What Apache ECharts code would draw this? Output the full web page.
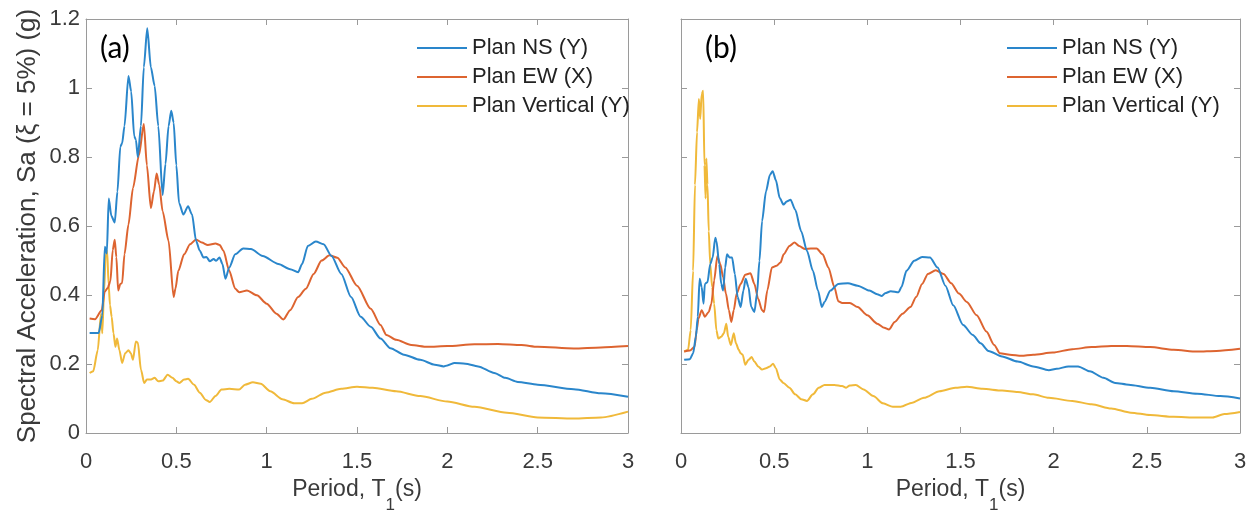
<!DOCTYPE html>
<html>
<head>
<meta charset="utf-8">
<script src="https://cdn.jsdelivr.net/npm/echarts@6/dist/echarts.min.js"></script>
<style>html,body{margin:0;padding:0;background:#fff;}#c{width:1256px;height:519px;}</style>
</head>
<body>
<div id="c"></div>
<script>
// ---- Data (Period T in s, Sa in g) ----
const seriesNames = ['Plan NS (Y)', 'Plan EW (X)', 'Plan Vertical (Y)'];
const xTicks = [0, 0.5, 1, 1.5, 2, 2.5, 3];
const yTicks = [0, 0.2, 0.4, 0.6, 0.8, 1, 1.2];

// Panel (a)
const aNS_T = [0.02,0.07,0.09,0.104,0.115,0.126,0.14,0.159,0.174,0.19,0.2,0.213,0.235,0.25,0.267,0.276,0.287,0.304,0.32,0.339,0.359,0.38,0.40,0.424,0.44,0.457,0.472,0.485,0.50,0.515,0.539,0.565,0.587,0.609,0.63,0.65,0.667,0.685,0.707,0.72,0.739,0.755,0.772,0.793,0.826,0.87,0.913,0.978,1.065,1.13,1.174,1.196,1.228,1.272,1.315,1.359,1.413,1.467,1.52,1.576,1.63,1.685,1.76,1.85,1.93,1.98,2.0,2.04,2.1,2.17,2.26,2.32,2.39,2.5,2.7,2.85,3.0];
const aNS_Sa = [0.29,0.29,0.34,0.54,0.52,0.68,0.63,0.61,0.70,0.83,0.84,0.89,1.035,0.99,0.86,0.85,0.80,0.89,1.06,1.173,1.06,1.006,0.89,0.69,0.78,0.89,0.934,0.90,0.776,0.667,0.633,0.657,0.633,0.557,0.528,0.509,0.51,0.498,0.504,0.499,0.509,0.49,0.447,0.48,0.518,0.535,0.533,0.513,0.49,0.475,0.466,0.49,0.542,0.555,0.547,0.513,0.461,0.394,0.337,0.308,0.274,0.246,0.227,0.212,0.198,0.193,0.196,0.203,0.201,0.193,0.174,0.16,0.148,0.14,0.127,0.115,0.105];

const aEW_T = [0.02,0.05,0.087,0.104,0.12,0.135,0.148,0.159,0.168,0.178,0.19,0.2,0.213,0.235,0.26,0.293,0.32,0.337,0.359,0.376,0.391,0.405,0.424,0.457,0.485,0.495,0.511,0.543,0.576,0.609,0.641,0.674,0.717,0.74,0.761,0.793,0.826,0.848,0.891,0.946,1.0,1.054,1.093,1.13,1.174,1.217,1.26,1.304,1.348,1.391,1.435,1.5,1.576,1.63,1.663,1.717,1.80,1.89,2.0,2.15,2.28,2.41,2.5,2.7,2.85,3.0];
const aEW_Sa = [0.332,0.33,0.356,0.41,0.42,0.44,0.53,0.56,0.51,0.413,0.432,0.435,0.518,0.604,0.71,0.805,0.896,0.776,0.652,0.70,0.752,0.72,0.643,0.557,0.394,0.418,0.47,0.518,0.547,0.561,0.552,0.545,0.549,0.545,0.528,0.47,0.418,0.408,0.413,0.399,0.375,0.346,0.329,0.356,0.394,0.418,0.461,0.50,0.515,0.508,0.48,0.427,0.36,0.313,0.284,0.27,0.255,0.25,0.252,0.257,0.258,0.255,0.25,0.245,0.248,0.252];

const aV_T = [0.02,0.04,0.065,0.083,0.09,0.1,0.109,0.117,0.125,0.133,0.142,0.152,0.163,0.172,0.185,0.2,0.217,0.235,0.248,0.26,0.276,0.287,0.304,0.322,0.337,0.36,0.38,0.4,0.425,0.452,0.478,0.5,0.517,0.543,0.565,0.598,0.63,0.663,0.685,0.717,0.75,0.793,0.848,0.88,0.924,0.967,1.02,1.087,1.152,1.196,1.25,1.326,1.413,1.5,1.587,1.717,1.85,2.0,2.15,2.33,2.5,2.7,2.85,3.0];
const aV_Sa = [0.174,0.179,0.24,0.346,0.289,0.41,0.518,0.528,0.432,0.37,0.337,0.289,0.25,0.274,0.24,0.203,0.231,0.24,0.231,0.212,0.265,0.262,0.184,0.145,0.155,0.155,0.16,0.15,0.152,0.169,0.16,0.15,0.145,0.155,0.157,0.14,0.117,0.096,0.09,0.107,0.126,0.128,0.126,0.14,0.147,0.143,0.121,0.098,0.086,0.086,0.099,0.117,0.128,0.134,0.131,0.121,0.107,0.091,0.076,0.059,0.045,0.042,0.045,0.062];

// Panel (b)
const bNS_T = [0.017,0.048,0.065,0.08,0.09,0.1,0.111,0.121,0.128,0.142,0.157,0.17,0.184,0.19,0.205,0.216,0.226,0.237,0.247,0.26,0.274,0.289,0.304,0.32,0.335,0.347,0.362,0.377,0.394,0.408,0.421,0.435,0.456,0.477,0.492,0.509,0.53,0.55,0.567,0.588,0.613,0.645,0.676,0.708,0.735,0.756,0.77,0.802,0.844,0.896,0.948,1.011,1.053,1.078,1.095,1.126,1.168,1.183,1.21,1.252,1.294,1.336,1.377,1.419,1.461,1.514,1.566,1.608,1.65,1.723,1.807,1.89,1.974,2.016,2.079,2.131,2.194,2.267,2.33,2.403,2.518,2.644,2.77,2.895,3.0];
const bNS_Sa = [0.212,0.214,0.231,0.279,0.337,0.447,0.423,0.375,0.432,0.437,0.49,0.509,0.566,0.557,0.49,0.432,0.413,0.48,0.518,0.509,0.509,0.461,0.394,0.365,0.413,0.447,0.423,0.365,0.351,0.404,0.499,0.614,0.70,0.748,0.759,0.733,0.681,0.662,0.671,0.676,0.647,0.585,0.528,0.47,0.413,0.365,0.38,0.413,0.432,0.434,0.427,0.413,0.402,0.397,0.405,0.411,0.408,0.423,0.47,0.499,0.51,0.509,0.48,0.427,0.37,0.313,0.284,0.26,0.238,0.222,0.207,0.193,0.182,0.186,0.193,0.193,0.179,0.16,0.145,0.14,0.131,0.121,0.114,0.107,0.10];

const bEW_T = [0.017,0.048,0.073,0.084,0.094,0.111,0.128,0.149,0.163,0.178,0.195,0.211,0.226,0.241,0.257,0.27,0.283,0.299,0.32,0.345,0.373,0.394,0.414,0.435,0.446,0.463,0.488,0.513,0.534,0.551,0.582,0.609,0.634,0.666,0.697,0.728,0.76,0.791,0.823,0.844,0.865,0.906,0.948,1.0,1.053,1.091,1.116,1.147,1.189,1.231,1.262,1.294,1.325,1.367,1.409,1.45,1.492,1.534,1.587,1.639,1.681,1.712,1.765,1.827,1.89,1.995,2.1,2.204,2.309,2.393,2.518,2.644,2.77,2.874,3.0];
const bEW_Sa = [0.236,0.239,0.25,0.298,0.332,0.356,0.337,0.351,0.375,0.442,0.513,0.49,0.451,0.404,0.356,0.322,0.356,0.404,0.432,0.459,0.463,0.432,0.389,0.356,0.351,0.413,0.48,0.485,0.494,0.518,0.542,0.552,0.542,0.533,0.535,0.535,0.518,0.48,0.423,0.382,0.377,0.377,0.365,0.341,0.317,0.305,0.30,0.322,0.346,0.365,0.394,0.432,0.461,0.472,0.461,0.434,0.404,0.38,0.341,0.294,0.255,0.231,0.227,0.224,0.227,0.233,0.243,0.249,0.252,0.252,0.249,0.241,0.236,0.238,0.244];

const bV_T = [0.017,0.038,0.052,0.065,0.075,0.086,0.096,0.103,0.111,0.119,0.126,0.132,0.136,0.142,0.149,0.157,0.167,0.178,0.19,0.2,0.216,0.23,0.243,0.253,0.268,0.283,0.295,0.31,0.32,0.331,0.345,0.362,0.379,0.394,0.414,0.435,0.456,0.477,0.494,0.509,0.53,0.55,0.582,0.613,0.645,0.676,0.708,0.739,0.77,0.823,0.865,0.886,0.906,0.938,0.98,1.032,1.084,1.137,1.179,1.241,1.304,1.388,1.472,1.534,1.618,1.723,1.807,1.89,1.974,2.1,2.204,2.309,2.414,2.518,2.644,2.77,2.853,2.916,3.0];
const bV_Sa = [0.236,0.241,0.298,0.47,0.719,0.872,0.968,0.91,0.982,0.992,0.776,0.68,0.796,0.72,0.585,0.49,0.423,0.375,0.298,0.274,0.279,0.289,0.317,0.279,0.255,0.289,0.26,0.241,0.231,0.227,0.198,0.212,0.22,0.207,0.193,0.184,0.188,0.193,0.201,0.188,0.155,0.145,0.131,0.112,0.098,0.093,0.112,0.131,0.139,0.139,0.136,0.131,0.138,0.139,0.126,0.107,0.086,0.076,0.076,0.088,0.102,0.121,0.131,0.134,0.128,0.123,0.119,0.112,0.102,0.093,0.083,0.071,0.059,0.052,0.047,0.045,0.045,0.055,0.061];

// ---- Build chart ----
const colors = ['#2a86cb', '#dd6430', '#f0b93a'];
const zip = (t, s) => t.map((v, i) => [v, s[i]]);
const boxColor = '#9a9a9a';
const labelColor = '#3a3a3a';
const fontFam = 'Liberation Sans, Arial, sans-serif';

function xAxisBottom(gi) {
  return {
    type: 'value', gridIndex: gi, min: 0, max: 3, interval: 0.5, position: 'bottom',
    axisLine: { show: true, onZero: false, lineStyle: { color: boxColor, width: 1 } },
    axisTick: { show: true, inside: true, length: 6, lineStyle: { color: boxColor } },
    axisLabel: { color: labelColor, fontSize: 22, fontFamily: fontFam, margin: 18 },
    splitLine: { show: false },
    name: '{m|Period, T}{sub|1}{m|(s)}', nameLocation: 'middle', nameGap: 45,
    nameTextStyle: {
      color: labelColor, fontSize: 23, fontFamily: fontFam,
      rich: {
        m: { fontSize: 23, fontFamily: fontFam, color: labelColor, lineHeight: 26, verticalAlign: 'top' },
        sub: { fontSize: 17, fontFamily: fontFam, color: labelColor, verticalAlign: 'top', padding: [19, 0, 0, 0], lineHeight: 17 }
      }
    }
  };
}
function xAxisTop(gi) {
  return {
    type: 'value', gridIndex: gi, min: 0, max: 3, interval: 0.5, position: 'top',
    axisLine: { show: true, onZero: false, lineStyle: { color: boxColor, width: 1 } },
    axisTick: { show: true, inside: true, length: 6, lineStyle: { color: boxColor } },
    axisLabel: { show: false }, splitLine: { show: false }
  };
}
function yAxisLeft(gi, showLabels) {
  const ax = {
    type: 'value', gridIndex: gi, min: 0, max: 1.2, interval: 0.2, position: 'left',
    axisLine: { show: true, onZero: false, lineStyle: { color: boxColor, width: 1 } },
    axisTick: { show: true, inside: true, length: 6, lineStyle: { color: boxColor } },
    axisLabel: { show: showLabels, color: labelColor, fontSize: 22, fontFamily: fontFam, margin: 6,
                 formatter: v => String(Math.round(v * 10) / 10) },
    splitLine: { show: false }
  };
  if (showLabels) {
    ax.name = 'Spectral Acceleration, Sa (ξ = 5%) (g)';
    ax.nameLocation = 'middle';
    ax.nameGap = 45;
    ax.nameTextStyle = { color: labelColor, fontSize: 26, fontFamily: fontFam };
  }
  return ax;
}
function yAxisRight(gi) {
  return {
    type: 'value', gridIndex: gi, min: 0, max: 1.2, interval: 0.2, position: 'right',
    axisLine: { show: true, onZero: false, lineStyle: { color: boxColor, width: 1 } },
    axisTick: { show: true, inside: true, length: 6, lineStyle: { color: boxColor } },
    axisLabel: { show: false }, splitLine: { show: false }
  };
}
function line(name, data, ci, xi, yi) {
  return {
    type: 'line', name: name, data: data, xAxisIndex: xi, yAxisIndex: yi,
    showSymbol: false, symbol: 'none', smooth: 0.25, smoothMonotone: 'x',
    lineStyle: { color: colors[ci], width: 2 }, itemStyle: { color: colors[ci] },
    z: 3 - ci, animation: false
  };
}
function legend(left) {
  return {
    data: seriesNames, orient: 'vertical', left: left, top: 32,
    icon: 'rect', itemWidth: 50, itemHeight: 2, itemGap: 7,
    textStyle: { color: '#222', fontSize: 22, fontFamily: fontFam, lineHeight: 22 },
    selectedMode: false
  };
}

const chart = echarts.init(document.getElementById('c'), null, { renderer: 'canvas' });
chart.setOption({
  backgroundColor: '#fff',
  animation: false,
  grid: [
    { left: 86, right: 628, top: 19, bottom: 82 },
    { left: 681, right: 16, top: 19, bottom: 82 }
  ],
  xAxis: [xAxisBottom(0), xAxisTop(0), xAxisBottom(1), xAxisTop(1)],
  yAxis: [yAxisLeft(0, true), yAxisRight(0), yAxisLeft(1, false), yAxisRight(1)],
  legend: [legend(412), legend(1002)],
  title: [
    { text: '(a)', left: 95, top: 28, textStyle: { fontFamily: 'Lato, sans-serif', fontWeight: 'normal', fontSize: 30, color: '#000' } },
    { text: '(b)', left: 700, top: 28, textStyle: { fontFamily: 'Lato, sans-serif', fontWeight: 'normal', fontSize: 30, color: '#000' } }
  ],
  series: [
    line(seriesNames[0], zip(aNS_T, aNS_Sa), 0, 0, 0),
    line(seriesNames[1], zip(aEW_T, aEW_Sa), 1, 0, 0),
    line(seriesNames[2], zip(aV_T, aV_Sa), 2, 0, 0),
    line(seriesNames[0], zip(bNS_T, bNS_Sa), 0, 2, 2),
    line(seriesNames[1], zip(bEW_T, bEW_Sa), 1, 2, 2),
    line(seriesNames[2], zip(bV_T, bV_Sa), 2, 2, 2)
  ]
});
</script>
</body>
</html>
